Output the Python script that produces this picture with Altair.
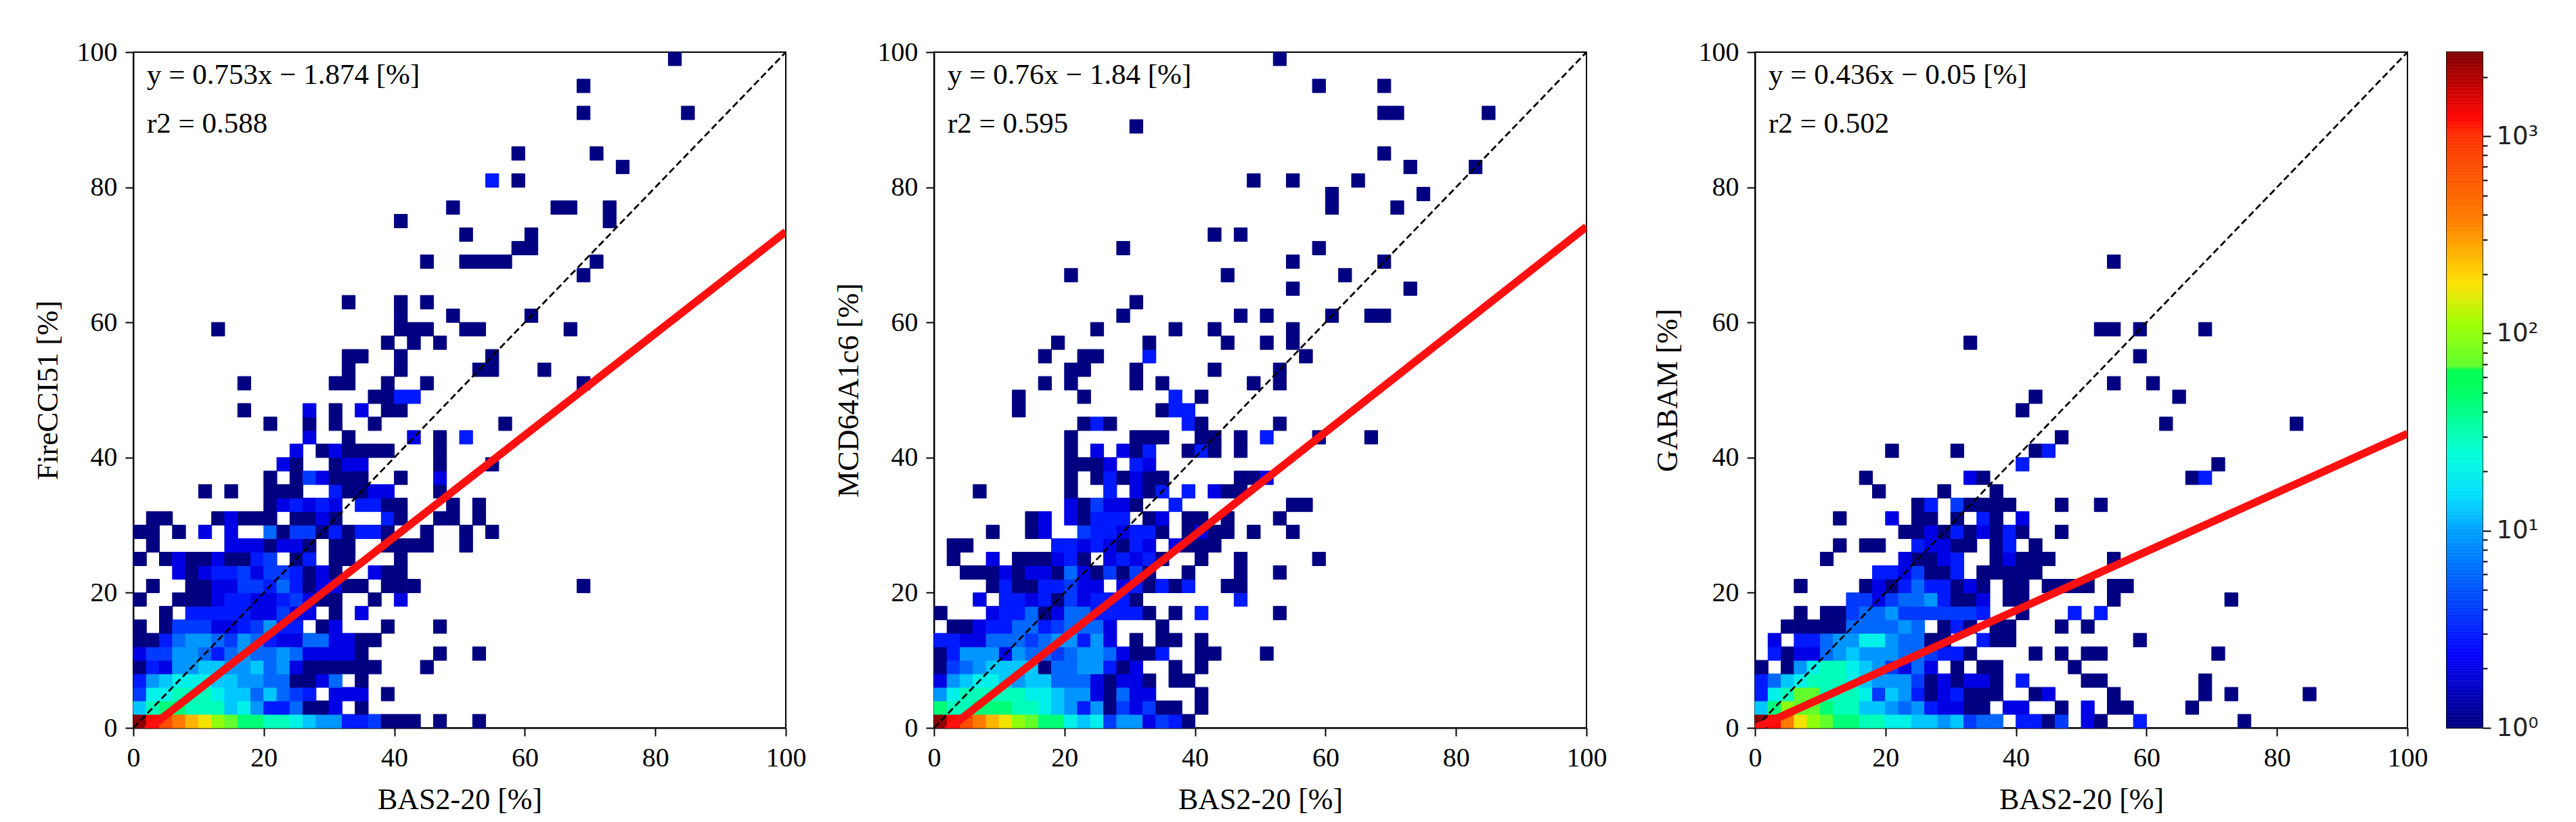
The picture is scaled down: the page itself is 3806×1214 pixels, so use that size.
import altair as alt
import numpy as np
import pandas as pd

SERIF = "Liberation Serif"
VMAX = 2670
BIN = 2

# level code -> pixel count in a 2 % x 2 % bin
LEVELS = {"1": 1, "2": 2, "3": 3, "4": 4, "5": 6, "6": 9, "7": 13, "8": 20, "9": 30,
          "a": 45, "b": 70, "c": 100, "d": 170, "e": 250, "f": 400, "g": 700, "h": 1200, "i": 2500}

# (row, first column, level codes); bins are 2 % wide, "." is an empty bin
FIRE = [
 (0,0,"ihgfedcbaa998766334111.1..1"),(1,0,"79aa99978633 5112.1".replace(" ","")),
 (2,0,"4889998775 75 43.2 22.1".replace(" ","")),(3,0,"367888776655112 5.1".replace(" ","")),
 (4,0,"13266776675 62111111".replace(" ","")),(4,22,"1"),
 (5,0,"244665 3565565 22221".replace(" ","")),(5,23,"1"),(5,26,"1"),
 (6,0,"11356654653 225522 11".replace(" ","")),(7,0,"1.1444223463 3.12...1".replace(" ","")),(7,23,"1"),
 (8,2,"1.33333 2242 2.1.2".replace(" ","")),(9,0,"1..111233 22342 11..1.2".replace(" ","")),
 (10,1,"1..11224435312 2 11.111".replace(" ","")),(10,34,"1"),
 (11,3,"212 3342 44 3 121..211".replace(" ","")),(12,0,"1.1211 21134.13.11...1".replace(" ","")),
 (13,1,"1"),(13,7,"2221 22 1.11..1111..1".replace(" ","")),
 (14,0,"11.1.2.2..51 4413133 1..1..1.1".replace(" ","")),
 (15,1,"11...1 2111.1121...31..11.1".replace(" ","")),
 (16,10,"1 232 32.33 11...1.1".replace(" ","")),(17,5,"1.1"),(17,10,"111..3 1122".replace(" ","")),(17,23,"1"),
 (18,10,"1.1 42111..1..2".replace(" ","")),(19,11,"21..1 22".replace(" ","")),(19,23,"1"),(19,27,"1"),
 (20,12,"2.1 21111".replace(" ","")),(20,23,"1"),(21,13,"2..1"),(21,21,"2.1.3"),
 (22,10,"1..1.1..1"),(22,28,"1"),(23,8,"1"),(23,13,"2.1.2.11"),(24,18,"1133"),
 (25,8,"1"),(25,15,"11"),(25,19,"1"),(25,22,"1"),(25,34,"1"),
 (26,16,"1"),(26,20,"1"),(26,26,"11"),(26,31,"1"),(27,16,"11"),(27,20,"1"),(27,27,"1"),
 (28,19,"1.1.1"),(29,6,"1"),(29,20,"111"),(29,25,"11"),(29,33,"1"),(30,20,"1"),(30,24,"1"),(30,30,"1"),
 (31,16,"1"),(31,20,"1.1"),(33,34,"1"),(34,22,"1"),(34,25,"1111"),(34,35,"1"),
 (35,29,"11"),(36,25,"1"),(36,30,"1"),(37,20,"1"),(37,36,"1"),(38,24,"1"),(38,32,"11"),(38,36,"1"),
 (40,27,"3.1"),(41,37,"1"),(42,29,"1"),(42,35,"1"),(45,34,"1"),(45,42,"1"),(47,34,"1"),(49,41,"1"),
]
MCD = [
 (0,0,"ihgfedcbaa8784662431"),(1,0,"a99aaa9 9876 3 6 1 4 2 4 1 1".replace(" ","")),(1,20,"1"),
 (2,0,"689999 9 887 6 6 2 1 5 2 2...1".replace(" ","")),(3,0,"2 6 7 8 8 7 6 7 7 5 5 5 2 1 2 2 1 . 1 1".replace(" ","")),
 (4,0,"1 4 5 6 7 7 7 7 1 5 5 6 6 3 1 2 . . 1 . 1".replace(" ","")),
 (5,0,"1 3 6 6 6 2 6 5 5 4 5 6 6 5 2 1 1 3 . . 1 1".replace(" ","")),(5,25,"1"),
 (6,0,"3 3 2 2 5 5 5 4 5 6 6 3 6 2 . 1 . 1 1 . 1".replace(" ","")),
 (7,1,"1 1 2 3 3 5 5 3 4 5 5 5 2 . . . 1".replace(" ","")),
 (8,0,"1"),(8,4,"2 3 3 5 1 2 5 5 3 3 3 3 1 . 1 . 3".replace(" ","")),(8,26,"1"),
 (9,3,"2 . 3 3 2 3 1 4 2 3 3 3 1".replace(" ","")),(9,23,"3"),
 (10,4,"1 3 1 1 3 3 4 2 2 . 2 3 1 3 1 3".replace(" ","")),(10,22,"11"),
 (11,2,"1 1 1 2 1 2 2 1 5 2 1 4 1 4 1 . . 1".replace(" ","")),(11,23,"1"),(11,26,"1"),
 (12,1,"1 . . 2 . 1 1 1 2 3 1 . 2 3 2 3 1 . . 1".replace(" ","")),(12,23,"1"),(12,29,"1"),
 (13,1,"11"),(13,9,"3 3 2 3 2 1 3 2 . 2 1 1 1".replace(" ","")),
 (14,4,"1"),(14,7,"12"),(14,11,"4 3 3 2 3 3 1 . 1 2 1 1 . 1".replace(" ","")),(14,27,"1"),
 (15,7,"12"),(15,10,"2 1 3 3 3 . 1 2 . 1 1 . 1".replace(" ","")),(15,26,"1"),
 (16,10,"2 1 4 2 2 1 . . 3".replace(" ","")),(16,27,"11"),
 (17,3,"1"),(17,10,"1 . . 3 . 2 1 3 . 3 . 2 1 1".replace(" ","")),
 (18,10,"1 . 1 3 1 2 1 1".replace(" ","")),(18,23,"112"),(19,10,"111 2 . 3 2".replace(" ","")),
 (20,10,"1.2.2 1 3".replace(" ","")),(20,19,"1 3 1 . 1".replace(" ","")),(21,10,"1"),(21,15,"111"),(21,20,"11"),(21,23,"1"),(21,25,"3"),(21,29,"1"),(21,33,"1"),
 (22,11,"131"),(22,19,"31"),(22,26,"1"),(23,6,"1"),(23,17,"133"),(24,6,"1"),(24,11,"1"),(24,18,"3.1"),
 (25,8,"1"),(25,10,"1"),(25,15,"1"),(25,17,"1"),(25,24,"1"),(25,26,"1"),
 (26,10,"11"),(26,15,"1"),(26,21,"1"),(26,26,"1"),(27,8,"1"),(27,11,"11"),(27,16,"3"),(27,28,"1"),
 (28,9,"1"),(28,16,"1"),(28,22,"1"),(28,25,"1"),(28,27,"1"),(29,12,"1"),(29,18,"1"),(29,21,"1"),(29,27,"1"),
 (30,14,"1"),(30,23,"1"),(30,25,"1"),(30,30,"1"),(30,33,"11"),(31,15,"1"),(32,27,"1"),(32,36,"1"),
 (33,10,"1"),(33,22,"1"),(33,31,"1"),(34,27,"1"),(34,34,"1"),(35,14,"1"),(35,29,"1"),(36,21,"1"),(36,23,"1"),
 (38,30,"1"),(38,35,"1"),(39,30,"1"),(39,37,"1"),(40,24,"1"),(40,27,"1"),(40,32,"1"),(41,36,"1"),(41,41,"1"),
 (42,34,"1"),(44,15,"1"),(45,34,"11"),(45,42,"1"),(47,29,"1"),(47,34,"1"),(49,26,"1"),
]
GABAM = [
 (0,0,"ihfdcbaa99 887767 455.".replace(" ","")),(0,20,"3314.21..3"),(0,37,"1"),
 (1,0,"7acbba9 9 7 7 6 5 6 3 2 2 1 1 . 2 2".replace(" ","")),(1,23,"1.2"),(1,27,"11"),(1,33,"1"),
 (2,0,"3 8 9 b b 9 9 9 8 4 7 6 3 1 2 3 1 1 1".replace(" ","")),(2,21,"12"),(2,27,"1"),(2,34,"1"),(2,36,"1"),(2,42,"1"),
 (3,0,"3 5 7 8 9 9 9 8 7 6 6 6 4 1 2 1 2 2 1".replace(" ","")),(3,20,"3"),(3,25,"11"),(3,34,"1"),
 (4,0,"1 . 1 6 8 9 9 8 7 6 4 2 5 2 . 1 . 1 1".replace(" ","")),(4,24,"1"),
 (5,1,"3 1 2 2 5 6 7 6 6 6 5 5 4 3 3 1".replace(" ","")),(5,21,"1.1.11"),(5,35,"1"),
 (6,1,"2 . 3 3 5 6 6 8 8 6 5 5 1 1".replace(" ","")),(6,17,"311"),(6,29,"1"),
 (7,2,"1 1 1 1 1 5 5 5 5 6 5 . 1 3 1 . 1 1".replace(" ","")),(7,23,"1.1"),
 (8,3,"1.11 4 5 5 6 4 4 4 4 4 4 3".replace(" ","")),(8,20,"1"),(8,24,"3.3"),
 (9,7,"4 4 2 4 5 5 6 3 1 1 2 . 1 1".replace(" ","")),(9,27,"1"),(9,36,"1"),
 (10,3,"1"),(10,8,"1 2 1 3 5 3 3 1 2 1 . 1 1 . 1 1 1 1 . 1 1".replace(" ","")),
 (11,9,"3 3 2 4 1 1 3 . 1 1 1 1 1".replace(" ","")),
 (12,5,"1"),(12,11,"2 1 1 2 3 . . 1 2 1 1 1".replace(" ","")),(12,27,"1"),
 (13,6,"1.11"),(13,12,"3 2 2 1 1 . 1 3 . 1".replace(" ","")),
 (14,11,"1 1 2 1 3 1 2 1 3 1".replace(" ","")),(14,23,"1"),
 (15,6,"1"),(15,10,"2.11.1.31.2"),(16,12,"1 3 . 4 1 1 1 1".replace(" ","")),(16,23,"1"),(16,26,"1"),
 (17,9,"1"),(17,14,"1"),(17,18,"1"),(18,8,"1"),(18,16,"21"),(18,33,"13"),(19,20,"3"),(19,35,"1"),
 (20,10,"1"),(20,15,"1"),(20,21,"13"),(21,23,"1"),(22,31,"1"),(22,41,"1"),(23,20,"1"),(24,21,"1"),(24,32,"1"),
 (25,27,"1"),(25,30,"1"),(27,29,"1"),(28,16,"1"),(29,26,"11"),(29,29,"1"),(29,34,"1"),(34,27,"1"),
]

PANELS = [
    ("FireCCI51 [%]", FIRE, 0.753, -1.874, "y = 0.753x \u2212 1.874 [%]", "r2 = 0.588"),
    ("MCD64A1c6 [%]", MCD, 0.76, -1.84, "y = 0.76x \u2212 1.84 [%]", "r2 = 0.595"),
    ("GABAM [%]", GABAM, 0.436, -0.05, "y = 0.436x \u2212 0.05 [%]", "r2 = 0.502"),
]

# colormap stops as seen on the reference colorbar: position along the bar, colour
CM_POS = [0, 0.11, 0.29, 0.346, 0.406, 0.50, 0.53, 0.535, 0.60, 0.659, 0.75, 0.875, 0.905, 1]
CM_COL = ["#000080", "#0000ff", "#00a0ff", "#00e0ff", "#00ffd8", "#00ff60", "#00ff50", "#60ff30",
          "#a0ff00", "#ffe000", "#ff8000", "#ff3000", "#ff0000", "#800000"]
CM_DOM = [float(VMAX ** t) for t in CM_POS]
COLOR_SCALE = alt.Scale(type="log", domain=CM_DOM, range=CM_COL, interpolate="rgb", clamp=True)

CB_TICKS = [1, 2, 3, 4, 5, 6, 7, 8, 9, 10, 20, 30, 40, 50, 60, 70, 80, 90, 100,
            200, 300, 400, 500, 600, 700, 800, 900, 1000, 2000]
AXIS_VALUES = [0, 20, 40, 60, 80, 100]


def cells(runs):
    rows = []
    for r, c0, codes in runs:
        for k, ch in enumerate(codes):
            if ch != ".":
                c = c0 + k
                rows.append({"x0": c * BIN, "x1": (c + 1) * BIN, "y0": r * BIN, "y1": (r + 1) * BIN,
                             "n": LEVELS[ch]})
    return pd.DataFrame(rows)


def panel(title, runs, slope, icpt, eq, r2, y_pad):
    xs = alt.Scale(domain=[0, 100], nice=False, zero=False)
    ax = dict(values=AXIS_VALUES, grid=False, labelFont=SERIF, labelFontSize=40, titleFont=SERIF,
              titleFontSize=44, titleFontWeight="normal", tickSize=12, tickWidth=2, tickColor="black",
              domainColor="black", domainWidth=2, labelColor="black", titleColor="black", labelPadding=12,
              labelFlush=False, labelOverlap=False)
    heat = alt.Chart(cells(runs)).mark_rect(strokeWidth=1).encode(
        x=alt.X("x0:Q", scale=xs, axis=alt.Axis(title="BAS2-20 [%]", titlePadding=20, **ax)),
        x2="x1:Q",
        y=alt.Y("y0:Q", scale=xs, axis=alt.Axis(title=title, titlePadding=y_pad, **ax)),
        y2="y1:Q",
        color=alt.Color("n:Q", scale=COLOR_SCALE, legend=None),
        stroke=alt.Stroke("n:Q", scale=COLOR_SCALE, legend=None),
    )
    ends = pd.DataFrame({"x": [0, 100], "one": [0, 100], "fit": [slope * 0 + icpt, slope * 100 + icpt]})
    one = alt.Chart(ends).mark_line(color="black", strokeWidth=2.8, strokeDash=[10, 5], clip=True).encode(
        x=alt.X("x:Q", scale=xs), y=alt.Y("one:Q", scale=xs))
    fit = alt.Chart(ends).mark_line(color="#ff1010", strokeWidth=11.5, clip=True).encode(
        x=alt.X("x:Q", scale=xs), y=alt.Y("fit:Q", scale=xs))
    t1 = alt.Chart(pd.DataFrame({"t": [eq]})).mark_text(
        font=SERIF, fontSize=43, align="left", baseline="middle", color="black"
    ).encode(x=alt.value(20), y=alt.value(34), text="t:N")
    t2 = alt.Chart(pd.DataFrame({"t": [r2]})).mark_text(
        font=SERIF, fontSize=43, align="left", baseline="middle", color="black"
    ).encode(x=alt.value(20), y=alt.value(106), text="t:N")
    return alt.layer(heat, one, fit, t1, t2).properties(width=964, height=998)


p1 = panel(*PANELS[0], y_pad=20)
p2 = panel(*PANELS[1], y_pad=20)
p3 = panel(*PANELS[2], y_pad=23)

edges = np.geomspace(1, VMAX, 401)
cb_df = pd.DataFrame({"a": edges[:-1], "b": edges[1:], "n": np.sqrt(edges[:-1] * edges[1:])})
major = "datum.value==1||datum.value==10||datum.value==100||datum.value==1000"
cb = alt.Chart(cb_df).mark_rect(strokeWidth=0.5).encode(
    y=alt.Y("a:Q", scale=alt.Scale(type="log", domain=[1, VMAX], nice=False),
            axis=alt.Axis(orient="right", title=None, values=CB_TICKS, grid=False, domain=False,
                          tickColor="black", tickWidth=2,
                          tickSize={"condition": {"test": major, "value": 12}, "value": 7},
                          labelFont="DejaVu Sans", labelFontSize=37, labelColor="#222222", labelPadding=8,
                          labelBaseline="middle", labelOverlap=False,
                          labelExpr="datum.value==1?'10\u2070':datum.value==10?'10\u00b9':datum.value==100?'10\u00b2':datum.value==1000?'10\u00b3':''")),
    y2="b:Q",
    color=alt.Color("n:Q", scale=COLOR_SCALE, legend=None),
    stroke=alt.Stroke("n:Q", scale=COLOR_SCALE, legend=None),
).properties(width=53, height=998)

chart = alt.hconcat(
    alt.hconcat(alt.hconcat(p1, p2, spacing=39), p3, spacing=66),
    cb, spacing=25,
).resolve_scale(color="independent", stroke="independent").properties(
    padding={"left": 40, "top": 48, "right": 5, "bottom": 5}, background="white"
).configure_view(stroke="black", strokeWidth=2)

chart.save("out.html", embed_options={"renderer": "svg", "actions": False})
